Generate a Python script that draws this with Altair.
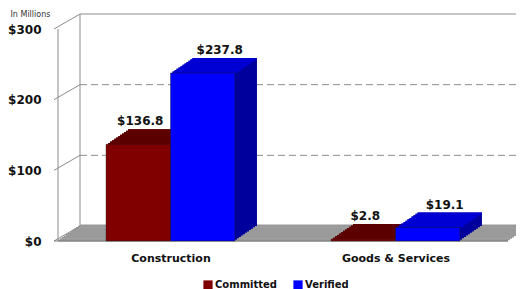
import json
import altair as alt
import pandas as pd

# ---- data ----
categories = ["Construction", "Goods & Services"]
series = ["Committed", "Verified"]
committed = [136.8, 2.8]
verified = [237.8, 19.1]
y_ticks = [0, 100, 200, 300]
grid_values = [100, 200]

# ---- styling / layout ----
front_colors = ["#800000", "#0000FF"]
top_colors = ["#5E0000", "#0000D6"]
side_colors = ["#480000", "#00009C"]
label_dx = [2, 17]
FONT = "DejaVu Sans"
W, H = 450, 212          # front plane
DX, DY = 22, 15          # depth of the 3-D box
N = 11                   # extrusion steps
SX, SY = DX / N, DY / N
BAR_W = 0.573            # bar width in slot units (x domain 0..4)
WALL = "#8c8c8c"
FLOOR = "#9a9a9a"

rows = []
for ci, cat in enumerate(categories):
    center = 2 * ci + 1
    for si, (s, vals) in enumerate(zip(series, [committed, verified])):
        x0 = center - BAR_W + si * BAR_W
        v = vals[ci]
        rows.append(dict(category=cat, series=s, value=v, x0=x0, x1=x0 + BAR_W,
                         xc=x0 + BAR_W / 2, base=0, label=f"${v:.1f}"))
df = pd.DataFrame(rows)
ticks_df = pd.DataFrame({"v": y_ticks})
grid_df = pd.DataFrame({"v": grid_values})
zero_df = pd.DataFrame({"v": [0]})

xs = alt.Scale(domain=[0, 4], nice=False, zero=False)
ys = alt.Scale(domain=[0, 300], nice=False)

X_AX = alt.Axis(values=[1, 3], title=None, domain=False, ticks=False, grid=False,
                labelExpr=f"{json.dumps(categories)}[(datum.value - 1) / 2]",
                labelFont=FONT, labelFontSize=11, labelFontWeight="bold",
                labelColor="#111", labelPadding=11)
Y_AX = alt.Axis(values=y_ticks, format="$,.0f", domain=False, ticks=False, grid=False,
                labelFont=FONT, labelFontSize=12, labelFontWeight="bold",
                labelColor="#111", labelPadding=17,
                title="In Millions", titleAngle=0, titleX=-48, titleY=-15,
                titleAlign="left", titleBaseline="middle", titleFont=FONT,
                titleFontSize=8, titleFontWeight="normal", titleColor="#333")


def X(f):
    return alt.X(f, scale=xs, axis=X_AX)


def Y(f):
    return alt.Y(f, scale=ys, axis=Y_AX)


layers = []


def seg(x, y, x2, y2, **kw):
    return alt.Chart(zero_df).mark_rule(color=WALL, strokeWidth=1, **kw).encode(
        x=alt.value(x), y=alt.value(y), x2=alt.value(x2), y2=alt.value(y2))


# left wall outline and back-wall top edge
layers.append(seg(0, 0, 0, H))
layers.append(seg(DX, -DY, DX, H - DY))
layers.append(seg(DX, -DY, W + DX + 10, -DY))

# floor (extruded front edge)
for k in range(0, N + 1):
    layers.append(
        alt.Chart(zero_df).mark_rule(color=FLOOR, strokeWidth=2, yOffset=-k * SY - 0.5).encode(
            y=Y("v:Q"), x=alt.value(k * SX), x2=alt.value(W + k * SX)))

# dashed gridlines on the back wall
layers.append(
    alt.Chart(grid_df).mark_rule(color=WALL, strokeWidth=1, strokeDash=[7, 4], yOffset=-DY).encode(
        y=Y("v:Q"), x=alt.value(DX), x2=alt.value(W + DX + 10)))

# slanted ticks on the left wall
layers.append(
    alt.Chart(ticks_df).mark_rule(color=WALL, strokeWidth=1, y2Offset=-DY).encode(
        y=Y("v:Q"), y2="v:Q", x=alt.value(-4), x2=alt.value(DX)))

# floor front edge
layers.append(
    alt.Chart(zero_df).mark_rule(color="#7a7a7a", strokeWidth=1).encode(
        y=Y("v:Q"), x=alt.value(-4), x2=alt.value(W)))

color_enc = alt.Color("series:N", scale=alt.Scale(domain=series, range=front_colors),
                      legend=alt.Legend(orient="none", legendX=145, legendY=251,
                                        direction="horizontal", title=None,
                                        symbolType="square", symbolSize=85,
                                        symbolStrokeWidth=0, labelFont=FONT,
                                        labelFontSize=10, labelFontWeight="bold",
                                        labelColor="#111", columnPadding=16,
                                        labelOffset=2))

# bars
for si, s in enumerate(series):
    sdf = df[df.series == s]
    for k in range(1, N + 1):
        layers.append(
            alt.Chart(sdf).mark_rect(color=side_colors[si], xOffset=k * SX, x2Offset=k * SX,
                                     yOffset=-k * SY, y2Offset=-k * SY).encode(
                x=X("x0:Q"), x2="x1:Q", y=Y("value:Q"), y2="base:Q"))
    for k in range(1, N + 1):
        layers.append(
            alt.Chart(sdf).mark_rect(color=top_colors[si], xOffset=k * SX, x2Offset=k * SX,
                                     yOffset=-k * SY, y2Offset=-(k - 1) * SY + 0.3).encode(
                x=X("x0:Q"), x2="x1:Q", y=Y("value:Q"), y2="value:Q"))
    layers.append(
        alt.Chart(sdf).mark_rect(stroke="#1a1a1a", strokeWidth=0.4).encode(
            x=X("x0:Q"), x2="x1:Q", y=Y("value:Q"), y2="base:Q", color=color_enc))
    layers.append(
        alt.Chart(sdf).mark_text(font=FONT, fontSize=12, fontWeight="bold", color="#111",
                                 baseline="middle", dx=label_dx[si], dy=-23).encode(
            x=X("xc:Q"), y=Y("value:Q"), text="label:N"))

chart = alt.layer(*layers).properties(
    width=W, height=H,
    autosize=alt.AutoSizeParams(type="none"),
    padding={"left": 50, "top": 21, "right": 8, "bottom": 48},
).configure_view(stroke=None)

chart.save("out.html", embed_options={"renderer": "svg", "actions": False})
